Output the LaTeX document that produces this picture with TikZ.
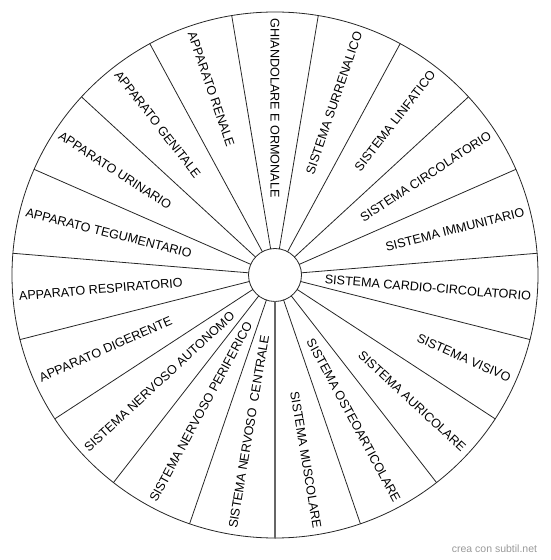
\documentclass[tikz,border=0pt]{standalone}
\usepackage{fontspec}
\setmainfont{Liberation Sans}
\usepackage{tikz}
\usetikzlibrary{calc,positioning}

\begin{document}
\begin{tikzpicture}[x=1pt,y=1pt, line join=round, line cap=round,
    spoke/.style={black!85, line width=0.8pt},
    sectorlabel/.style={font=\fontsize{12.6}{14}\selectfont, inner sep=0pt},
    credit/.style={font=\fontsize{10.5}{12}\selectfont, text=black!40}]
    \useasboundingbox (0,0) rectangle (550,560);
    \coordinate (c) at (275,285);
    % wheel
    \draw[spoke] (c) circle (263);
    \draw[spoke] (c) circle (26.5);
    % spokes
    \foreach \k in {0,...,18} {
        \pgfmathsetmacro{\ang}{99.4737+18.9474*\k}
        \draw[spoke] (c) ++(\ang:26.5) -- ++(\ang:236.5);
    }
    \draw[black!60, line width=1.3pt] (c) ++(270:26.5) -- ++(270:236.5);
    % labels, right half (read outward)
    \foreach \txt [count=\k from 1] in {SISTEMA SURRENALICO, SISTEMA LINFATICO,
        SISTEMA CIRCOLATORIO, SISTEMA IMMUNITARIO, SISTEMA CARDIO-CIRCOLATORIO,
        SISTEMA VISIVO, SISTEMA AURICOLARE, SISTEMA OSTEOARTICOLARE,
        SISTEMA MUSCOLARE} {
        \pgfmathsetmacro{\ang}{90-18.9474*\k}
        \node[sectorlabel, anchor=east, rotate=\ang] (lbl\k) at ($(c)+(\ang:257)$) {\txt};
    }
    % labels, left half (read inward)
    \foreach \txt [count=\k from 10] in {SISTEMA NERVOSO\ \ CENTRALE,
        SISTEMA NERVOSO PERIFERICO, SISTEMA NERVOSO AUTONOMO,
        APPARATO DIGERENTE, APPARATO RESPIRATORIO, APPARATO TEGUMENTARIO,
        APPARATO URINARIO, APPARATO GENITALE, APPARATO RENALE,
        GHIANDOLARE E ORMONALE} {
        \pgfmathsetmacro{\ang}{90-18.9474*\k}
        \node[sectorlabel, anchor=west, rotate=\ang+180] (lbl\k) at ($(c)+(\ang:257)$) {\txt};
    }
    % credit
    \node[credit] (credit) at (494.5,11) {crea con subtil.net};
\end{tikzpicture}
\end{document}
